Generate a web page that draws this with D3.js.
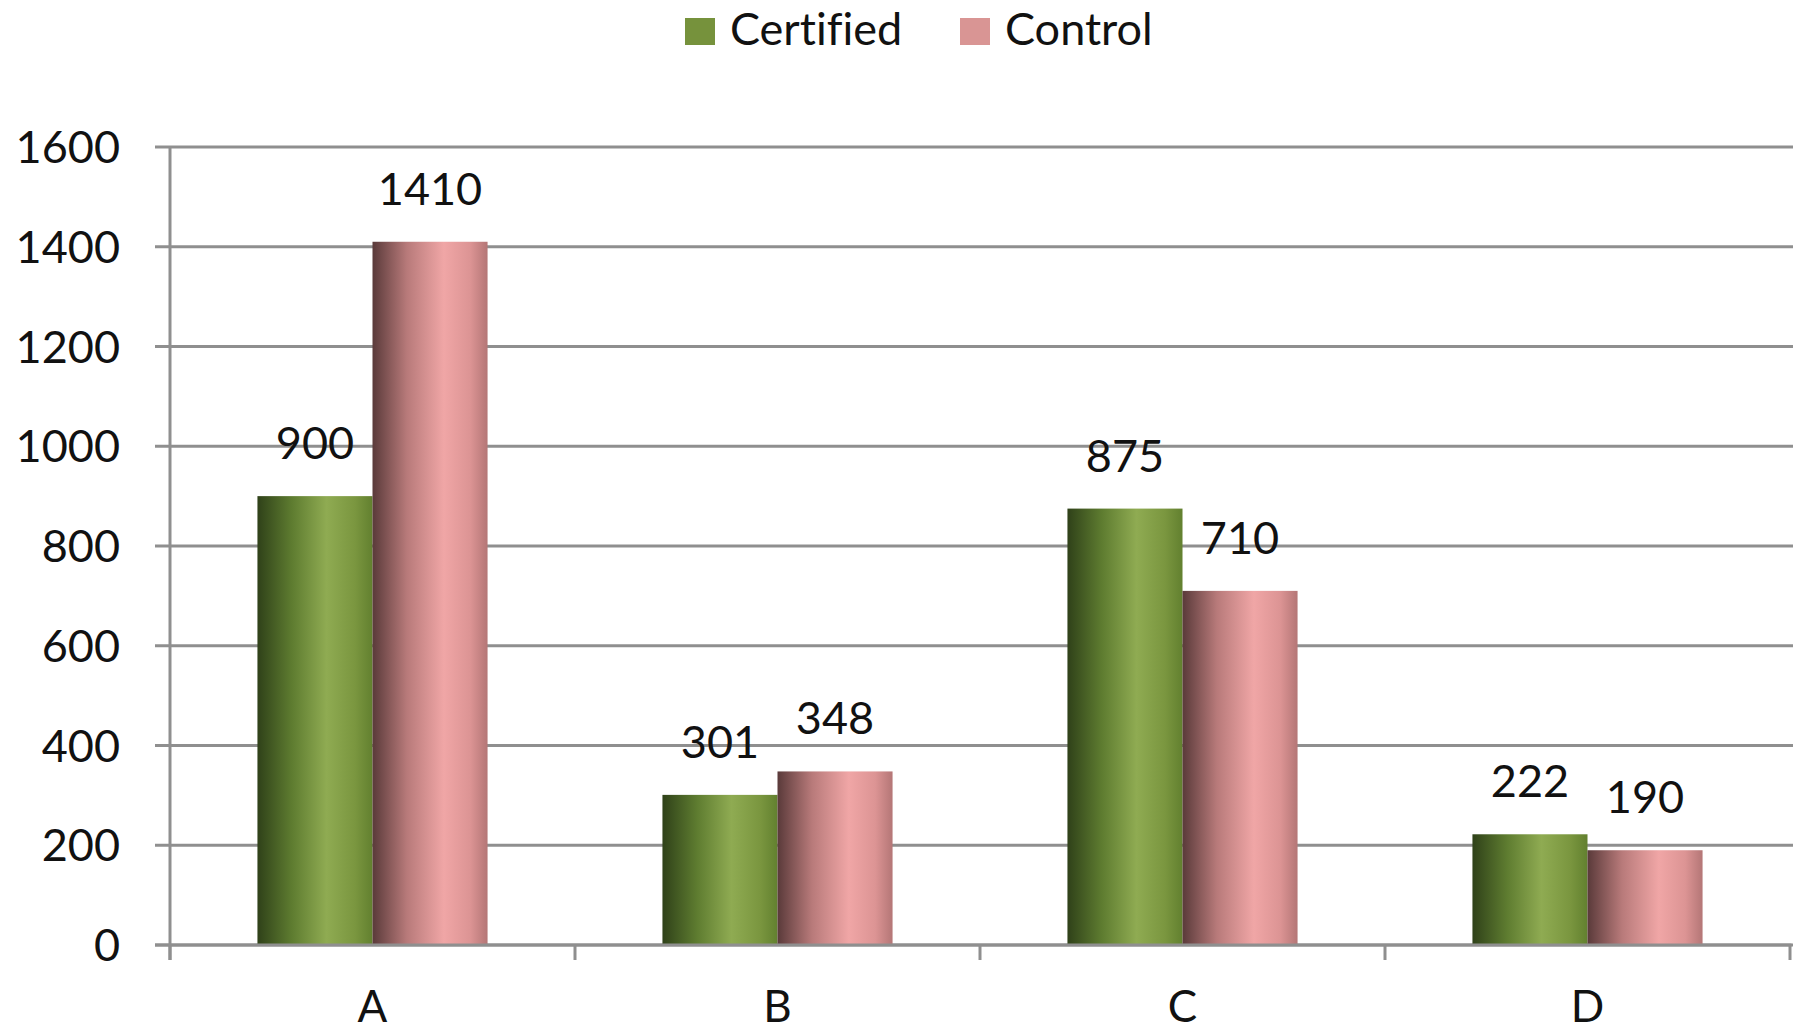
<!DOCTYPE html>
<html>
<head>
<meta charset="utf-8">
<script src="https://cdn.jsdelivr.net/npm/d3@7"></script>
<style>
  html, body { margin: 0; padding: 0; background: #fff; }
  svg { display: block; }
  text { font-family: Lato, "Open Sans", sans-serif; fill: #111; font-variant-ligatures: none; }
</style>
</head>
<body>
<svg id="chart" width="1804" height="1031"></svg>
<script>
const categories = ["A", "B", "C", "D"];
const seriesNames = ["Certified", "Control"];
const certified = [900, 301, 875, 222];
const control = [1410, 348, 710, 190];
const yTicks = [0, 200, 400, 600, 800, 1000, 1200, 1400, 1600];

(function () {
const svg = d3.select("#chart");
const mLeft = 170, mRight = 1790, mTop = 147, mBottom = 945;

const values = { Certified: certified, Control: control };
const data = categories.map((c, i) => ({ cat: c, vals: seriesNames.map(s => ({ s, v: values[s][i] })) }));

const x0 = d3.scaleBand().domain(categories).range([mLeft, mRight]).padding(0);
const x1 = d3.scaleBand().domain(seriesNames).range([0, x0.bandwidth()]).paddingInner(0).paddingOuter(0.76);
const y = d3.scaleLinear().domain([0, 1600]).range([mBottom, mTop]);

// gradients
const defs = svg.append("defs");
const gradStops = {
  Certified: [[0, "#2f4119"], [0.3, "#5e7c30"], [0.6, "#8fab52"], [0.85, "#7a963f"], [1, "#62802f"]],
  Control: [[0, "#5a3a3a"], [0.3, "#b87a7a"], [0.62, "#f0a6a6"], [0.85, "#dc9494"], [1, "#b47676"]]
};
const colorId = { Certified: "gCert", Control: "gCtrl" };
Object.entries(gradStops).forEach(([k, stops]) => {
  const g = defs.append("linearGradient").attr("id", colorId[k]).attr("x1", "0%").attr("x2", "100%").attr("y1", "0%").attr("y2", "0%");
  stops.forEach(([o, c]) => g.append("stop").attr("offset", o).attr("stop-color", c));
});
const legendColor = { Certified: "#76923c", Control: "#d99594" };

// gridlines
svg.append("g").selectAll("line").data(yTicks).join("line")
  .attr("x1", mLeft - 15).attr("x2", mRight + 3)
  .attr("y1", d => y(d)).attr("y2", d => y(d))
  .attr("stroke", "#8f8f8f").attr("stroke-width", 3);

// y-axis line
svg.append("line").attr("x1", mLeft).attr("x2", mLeft).attr("y1", y(1600)).attr("y2", mBottom + 15)
  .attr("stroke", "#8f8f8f").attr("stroke-width", 3);

// y labels
svg.append("g").selectAll("text").data(yTicks).join("text")
  .attr("x", 120).attr("y", d => y(d) + 16)
  .attr("text-anchor", "end").attr("font-size", 45)
  .text(d => d);

// x category ticks
const xTickPos = categories.map(c => x0(c)).concat([mRight]);
svg.append("g").selectAll("line").data(xTickPos).join("line")
  .attr("x1", d => d).attr("x2", d => d).attr("y1", mBottom).attr("y2", mBottom + 15)
  .attr("stroke", "#8f8f8f").attr("stroke-width", 3);

// bars
const groups = svg.append("g").selectAll("g").data(data).join("g")
  .attr("transform", d => `translate(${x0(d.cat)},0)`);
groups.selectAll("rect").data(d => d.vals).join("rect")
  .attr("x", d => x1(d.s)).attr("width", x1.bandwidth())
  .attr("y", d => y(d.v)).attr("height", d => y(0) - y(d.v))
  .attr("fill", d => `url(#${colorId[d.s]})`);
groups.selectAll("text").data(d => d.vals).join("text")
  .attr("x", d => x1(d.s) + x1.bandwidth() / 2).attr("y", d => y(d.v) - 37)
  .attr("text-anchor", "middle").attr("font-size", 45)
  .text(d => d.v);

// x axis baseline (on top of bars)
svg.append("line").attr("x1", mLeft - 15).attr("x2", mRight + 1.5).attr("y1", mBottom).attr("y2", mBottom)
  .attr("stroke", "#8f8f8f").attr("stroke-width", 3);

// x labels
svg.append("g").selectAll("text").data(categories).join("text")
  .attr("x", d => x0(d) + x0.bandwidth() / 2).attr("y", 1022)
  .attr("text-anchor", "middle").attr("font-size", 44)
  .text(d => d);

// legend
const legendX = [685, 960];
const leg = svg.append("g").selectAll("g").data(seriesNames).join("g")
  .attr("transform", (d, i) => `translate(${legendX[i]},0)`);
leg.append("rect").attr("x", 0).attr("y", 18).attr("width", 30).attr("height", 27)
  .attr("fill", d => legendColor[d]);
leg.append("text").attr("x", 45).attr("y", 45).attr("font-size", 45).text(d => d);
})();
</script>
</body>
</html>
